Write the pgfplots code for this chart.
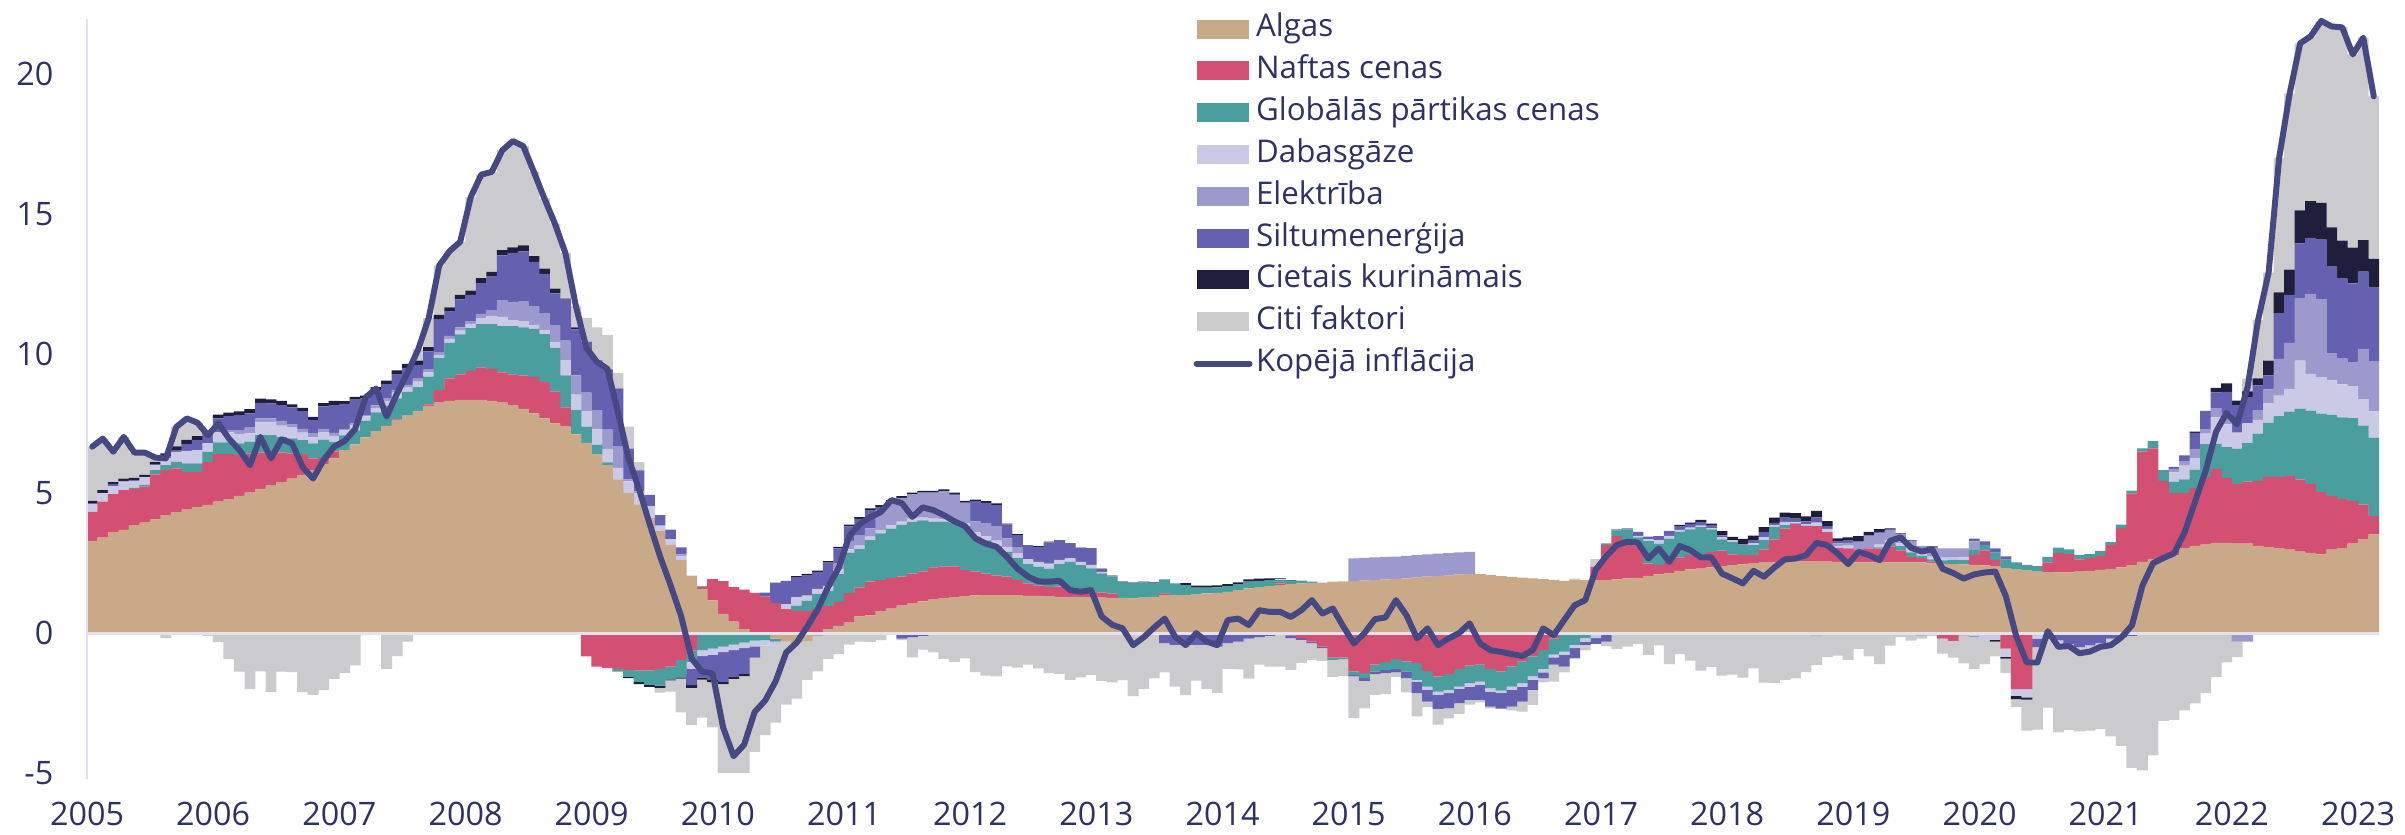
\documentclass[border=0pt]{standalone}
\usepackage{pgfplots}
\pgfplotsset{compat=1.18}
\usepackage{pgfplotstable}
\usepackage{fontspec}
\setmainfont{Open Sans}

\definecolor{cA}{HTML}{C9A988}
\definecolor{cO}{HTML}{D35073}
\definecolor{cF}{HTML}{4A9E9D}
\definecolor{cG}{HTML}{CBCAE6}
\definecolor{cE}{HTML}{9C9ACD}
\definecolor{cH}{HTML}{6462B0}
\definecolor{cS}{HTML}{1F1E3C}
\definecolor{cC}{HTML}{CBCBCD}
\definecolor{cL}{HTML}{464884}
\definecolor{labcol}{HTML}{2F3163}
\definecolor{axiscol}{HTML}{E3E3EF}

% m = month index from Jan 2005; A algas, O nafta, F partika, G gaze, E elektriba,
% H siltumenergija, S cietais kurinamais, C citi faktori, L kopeja inflacija
\pgfplotstableread{
m A O F G E H S C L
0 3.30 1.04 0.00 0.27 0.00 0.02 0.10 1.94 6.67
1 3.42 1.28 0.00 0.30 0.00 0.02 0.10 1.84 6.96
2 3.61 1.36 0.00 0.29 0.00 0.07 0.07 1.09 6.49
3 3.69 1.43 0.00 0.30 0.00 0.03 0.08 1.49 7.02
4 3.86 1.30 0.04 0.25 0.00 0.02 0.08 0.91 6.46
5 3.95 1.29 0.06 0.27 0.00 0.02 0.07 0.80 6.46
6 4.07 1.61 0.15 0.18 0.00 0.02 0.10 0.15 6.28
7 4.22 1.61 0.18 0.25 0.00 0.05 0.12 -0.18 6.25
8 4.33 1.56 0.24 0.35 0.00 0.05 0.15 0.70 7.38
9 4.42 1.35 0.30 0.45 0.00 0.24 0.15 0.77 7.68
10 4.52 1.25 0.30 0.48 0.00 0.35 0.15 0.48 7.53
11 4.59 1.53 0.36 0.32 0.00 0.33 0.05 -0.10 7.08
12 4.70 1.70 0.42 0.36 0.00 0.50 0.14 -0.32 7.50
13 4.79 1.61 0.42 0.36 0.08 0.50 0.13 -0.93 6.96
14 4.91 1.46 0.42 0.33 0.14 0.54 0.13 -1.38 6.55
15 5.03 1.40 0.42 0.30 0.20 0.51 0.15 -2.00 6.01
16 5.16 1.30 0.62 0.48 0.12 0.56 0.15 -1.37 7.02
17 5.28 1.18 0.62 0.48 0.12 0.54 0.14 -2.11 6.25
18 5.40 1.06 0.56 0.40 0.17 0.57 0.15 -1.38 6.93
19 5.53 0.90 0.54 0.38 0.13 0.60 0.10 -1.39 6.79
20 5.66 0.74 0.50 0.27 0.14 0.63 0.12 -2.11 5.95
21 5.81 0.44 0.54 0.21 0.14 0.48 0.12 -2.21 5.53
22 6.03 0.27 0.62 0.27 0.12 0.80 0.12 -2.04 6.19
23 6.25 0.25 0.34 0.22 0.10 1.00 0.15 -1.64 6.67
24 6.55 0.00 0.52 0.18 0.05 0.90 0.10 -1.43 6.87
25 6.75 0.00 0.50 0.20 0.05 0.85 0.10 -1.15 7.30
26 7.00 0.00 0.60 0.15 0.05 0.60 0.10 -0.07 8.43
27 7.23 0.00 0.67 0.15 0.10 0.55 0.10 -0.05 8.75
28 7.41 0.00 0.72 0.18 0.10 0.50 0.12 -1.28 7.75
29 7.60 0.05 0.75 0.20 0.10 0.55 0.15 -0.82 8.58
30 7.78 0.00 0.85 0.15 0.10 0.60 0.15 -0.30 9.33
31 7.95 0.00 0.85 0.20 0.10 0.50 0.15 0.40 10.15
32 8.13 0.05 1.00 0.15 0.10 0.65 0.15 1.04 11.27
33 8.25 0.45 1.15 0.08 0.10 1.20 0.15 1.77 13.15
34 8.31 0.80 1.27 0.15 0.10 0.87 0.15 2.02 13.67
35 8.34 0.92 1.43 0.15 0.10 1.00 0.16 1.90 14.00
36 8.34 1.04 1.53 0.15 0.10 0.94 0.15 3.35 15.60
37 8.34 1.17 1.54 0.22 0.15 1.10 0.18 3.70 16.40
38 8.31 1.14 1.60 0.30 0.20 1.20 0.17 3.58 16.50
39 8.25 1.08 1.65 0.33 0.60 1.60 0.19 3.57 17.27
40 8.16 1.10 1.72 0.22 0.65 1.75 0.20 3.80 17.60
41 8.02 1.20 1.72 0.22 0.70 1.80 0.21 3.55 17.42
42 7.86 1.30 1.72 0.15 0.65 1.60 0.21 3.01 16.50
43 7.68 1.30 1.72 0.15 0.60 1.40 0.19 2.51 15.55
44 7.50 1.15 1.55 0.20 0.60 1.15 0.17 2.33 14.65
45 7.39 0.69 1.14 0.55 0.69 1.47 0.04 1.63 13.60
46 7.11 0.00 0.87 0.55 0.69 1.65 0.07 0.76 11.70
47 6.81 -0.83 0.58 0.55 0.66 1.79 0.03 0.86 10.20
48 6.40 -1.20 0.34 0.55 0.69 1.78 0.01 1.17 9.70
49 6.01 -1.24 0.10 0.48 0.69 2.13 0.02 1.23 9.45
50 5.50 -1.28 -0.10 0.41 0.76 2.06 0.02 0.56 7.90
51 5.02 -1.31 -0.25 0.41 0.07 1.10 -0.05 0.79 6.26
52 4.61 -1.33 -0.41 0.41 0.05 0.75 -0.08 0.30 5.16
53 4.13 -1.33 -0.52 0.41 0.00 0.41 -0.07 0.00 3.92
54 3.65 -1.28 -0.60 0.20 0.00 0.37 -0.08 -0.17 2.75
55 3.16 -1.20 -0.45 0.20 0.00 0.34 -0.04 -0.40 1.72
56 2.61 -0.96 -0.62 0.14 0.07 0.25 -0.05 -1.20 0.62
57 2.06 -0.62 -0.41 -0.25 0.00 -0.58 -0.10 -1.33 -0.90
58 1.58 0.07 -0.62 -0.20 0.03 -0.76 -0.08 -1.36 -1.38
59 1.17 0.76 -0.55 -0.23 0.00 -0.87 -0.10 -1.62 -1.44
60 0.69 1.17 -0.48 -0.20 0.00 -1.06 -0.08 -3.19 -3.37
61 0.41 1.24 -0.41 -0.20 0.00 -0.96 -0.07 -3.37 -4.40
62 0.14 1.42 -0.34 -0.20 0.00 -0.92 -0.08 -3.47 -3.99
63 0.00 1.44 -0.27 -0.20 0.00 -0.41 0.00 -3.37 -2.82
64 -0.05 1.31 -0.20 -0.20 0.00 0.14 0.00 -3.20 -2.41
65 -0.20 1.07 -0.10 -0.20 0.00 0.74 0.00 -2.70 -1.72
66 -0.30 0.86 0.00 0.18 0.00 0.83 0.00 -2.26 -0.69
67 -0.35 0.80 0.18 0.30 0.00 0.72 0.04 -1.99 -0.34
68 -0.30 0.80 0.36 0.18 0.00 0.72 0.06 -1.37 0.23
69 -0.10 0.86 0.54 0.18 0.00 0.60 0.06 -1.27 0.85
70 0.14 0.83 0.54 0.18 0.00 0.83 0.06 -0.92 1.66
71 0.26 0.86 0.99 0.18 0.20 0.54 0.06 -0.75 2.34
72 0.38 1.05 1.45 0.12 0.30 0.52 0.06 -0.41 3.47
73 0.60 1.04 1.37 0.12 0.36 0.60 0.06 -0.30 3.90
74 0.64 1.20 1.49 0.12 0.30 0.65 0.06 -0.31 4.15
75 0.79 1.11 1.67 0.12 0.70 0.13 0.06 -0.25 4.33
76 0.88 1.10 1.76 0.12 0.80 0.04 0.06 0.00 4.76
77 0.98 1.04 1.85 0.12 0.85 -0.20 0.06 -0.05 4.65
78 1.06 1.07 1.85 0.12 0.87 -0.15 0.06 -0.72 4.16
79 1.14 1.07 1.82 0.10 0.90 -0.10 0.06 -0.49 4.50
80 1.20 1.15 1.63 0.12 0.93 0.00 0.06 -0.69 4.40
81 1.25 1.13 1.61 0.10 0.98 0.00 0.07 -0.92 4.22
82 1.29 1.10 1.55 0.10 0.90 0.03 0.06 -1.03 4.00
83 1.32 0.93 1.58 0.10 0.72 0.02 0.06 -0.90 3.83
84 1.35 0.85 1.25 0.15 0.40 0.72 0.06 -1.39 3.39
85 1.36 0.77 1.19 0.15 0.45 0.74 0.06 -1.52 3.20
86 1.36 0.71 1.04 0.20 0.50 0.77 0.06 -1.55 3.09
87 1.36 0.66 0.89 0.18 0.30 0.50 0.03 -1.19 2.73
88 1.36 0.54 0.78 0.18 0.20 0.45 0.03 -1.23 2.31
89 1.33 0.45 0.69 0.18 0.00 0.48 0.02 -1.13 2.02
90 1.33 0.38 0.66 0.18 0.00 0.54 0.02 -1.26 1.85
91 1.32 0.33 0.66 0.15 0.05 0.74 0.02 -1.43 1.84
92 1.30 0.36 0.81 0.15 0.00 0.69 0.02 -1.46 1.87
93 1.30 0.30 0.95 0.12 0.00 0.52 0.02 -1.67 1.54
94 1.30 0.21 0.92 0.12 0.00 0.49 0.02 -1.58 1.48
95 1.29 0.20 0.83 0.12 0.00 0.57 0.02 -1.49 1.54
96 1.27 0.18 0.69 0.05 0.00 0.10 0.02 -1.71 0.60
97 1.26 0.15 0.62 0.00 0.00 0.02 0.01 -1.76 0.30
98 1.26 0.00 0.57 0.00 0.00 0.02 0.00 -1.68 0.17
99 1.24 0.00 0.56 0.00 0.00 0.02 0.00 -2.25 -0.43
100 1.27 0.00 0.55 0.00 0.00 0.00 0.02 -1.99 -0.15
101 1.30 0.00 0.50 0.00 0.00 0.00 0.02 -1.62 0.20
102 1.36 0.06 0.50 0.00 0.00 -0.36 0.00 -1.04 0.52
103 1.36 0.00 0.42 0.00 0.00 -0.42 0.00 -1.49 -0.13
104 1.36 0.00 0.36 0.00 0.00 -0.42 0.07 -1.80 -0.43
105 1.38 0.00 0.25 0.00 0.00 -0.42 0.07 -1.28 0.00
106 1.42 0.00 0.21 0.00 0.00 -0.42 0.07 -1.58 -0.30
107 1.44 -0.06 0.20 0.00 0.00 -0.42 0.07 -1.66 -0.43
108 1.48 0.00 0.20 0.00 0.00 -0.36 0.07 -0.92 0.47
109 1.54 0.00 0.21 0.00 0.00 -0.30 0.07 -1.00 0.52
110 1.60 0.00 0.24 0.00 0.00 -0.20 0.08 -1.43 0.29
111 1.63 0.00 0.24 0.00 0.00 -0.14 0.08 -0.99 0.82
112 1.68 0.00 0.22 0.00 0.00 -0.10 0.06 -1.10 0.76
113 1.72 0.06 0.12 0.03 0.00 0.00 0.03 -1.20 0.76
114 1.75 -0.08 0.12 0.00 0.00 -0.10 0.02 -1.13 0.58
115 1.78 -0.18 0.10 0.00 0.00 -0.06 0.00 -0.82 0.82
116 1.80 -0.30 0.04 0.00 0.00 -0.06 0.00 -0.60 1.18
117 1.81 -0.48 0.00 0.00 0.00 -0.06 0.00 -0.45 0.70
118 1.84 -0.88 -0.08 0.00 0.00 0.00 0.00 -0.60 0.88
119 1.85 -0.88 -0.05 0.00 0.00 0.00 0.00 -0.60 0.23
120 1.86 -1.37 -0.12 0.00 0.81 -0.06 0.00 -1.49 -0.37
121 1.88 -1.43 -0.18 0.00 0.81 -0.10 0.00 -0.98 0.00
122 1.90 -1.13 -0.24 0.00 0.81 -0.10 0.00 -0.74 0.50
123 1.92 -1.04 -0.27 0.00 0.81 -0.12 0.00 -0.74 0.56
124 1.94 -0.92 -0.36 0.00 0.80 -0.12 0.00 -0.16 1.18
125 1.96 -1.01 -0.36 0.00 0.80 -0.24 0.00 -0.51 0.64
126 1.99 -1.07 -0.60 -0.06 0.80 -0.42 0.00 -0.83 -0.19
127 2.02 -1.35 -0.56 -0.12 0.80 -0.42 0.00 -0.20 0.17
128 2.04 -1.55 -0.54 -0.12 0.80 -0.50 0.00 -0.56 -0.43
129 2.06 -1.47 -0.56 -0.12 0.80 -0.54 0.00 -0.36 -0.19
130 2.09 -1.28 -0.63 -0.08 0.80 -0.51 0.00 -0.39 0.00
131 2.11 -1.16 -0.63 -0.12 0.80 -0.48 0.00 -0.17 0.35
132 2.11 -1.13 -0.60 -0.12 0.00 -0.54 0.00 -0.09 -0.37
133 2.08 -1.28 -0.69 -0.12 0.00 -0.54 0.00 -0.06 -0.61
134 2.04 -1.37 -0.69 -0.08 0.00 -0.56 0.00 -0.01 -0.67
135 2.01 -1.19 -0.72 -0.12 0.00 -0.60 0.00 -0.13 -0.75
136 1.99 -1.01 -0.78 -0.12 0.00 -0.54 0.00 -0.36 -0.82
137 1.96 -0.83 -0.72 -0.12 0.00 -0.36 0.00 -0.54 -0.61
138 1.93 -0.60 -0.68 -0.12 0.00 -0.21 0.00 -0.15 0.17
139 1.90 -0.20 -0.57 -0.10 0.00 -0.26 0.00 -0.60 -0.07
140 1.87 -0.06 -0.60 -0.12 0.00 -0.42 0.00 -0.20 0.47
141 1.90 0.00 -0.42 -0.12 0.00 -0.36 0.00 0.05 1.00
142 1.90 0.00 -0.18 -0.12 0.00 -0.12 0.00 -0.20 1.18
143 1.90 0.48 0.00 -0.18 0.00 -0.20 0.00 0.27 2.27
144 1.90 1.25 0.06 0.00 0.00 -0.30 0.00 -0.16 2.75
145 1.92 1.55 0.21 0.00 0.00 0.03 0.00 -0.56 3.15
146 1.96 1.25 0.50 0.00 0.00 0.04 0.00 -0.48 3.27
147 1.98 1.15 0.30 0.05 0.00 0.14 0.00 -0.38 3.24
148 2.05 0.44 0.80 0.06 0.00 0.10 0.00 -0.78 2.67
149 2.10 0.33 0.77 0.12 0.00 0.15 0.00 -0.44 3.03
150 2.16 0.39 0.83 0.10 0.00 0.18 0.00 -1.11 2.55
151 2.23 0.48 0.92 0.06 0.00 0.12 0.06 -0.75 3.12
152 2.28 0.51 0.92 0.06 0.00 0.14 0.04 -0.98 2.97
153 2.31 0.48 1.00 0.06 0.00 0.10 0.10 -1.34 2.71
154 2.35 0.56 0.80 0.05 0.00 0.10 0.06 -1.21 2.71
155 2.40 0.55 0.40 0.08 0.00 0.07 0.15 -1.52 2.13
156 2.43 0.39 0.44 0.06 0.00 0.00 0.12 -1.48 1.96
157 2.46 0.33 0.36 0.02 0.00 0.00 0.20 -1.59 1.78
158 2.49 0.30 0.36 0.06 0.00 0.10 0.18 -1.26 2.23
159 2.52 0.48 0.33 0.10 0.00 0.18 0.18 -1.77 2.02
160 2.54 0.81 0.45 0.06 0.00 0.08 0.19 -1.78 2.35
161 2.56 1.18 0.12 0.12 0.00 0.15 0.18 -1.67 2.64
162 2.58 1.32 0.03 0.05 0.00 0.12 0.19 -1.62 2.67
163 2.58 1.25 0.02 0.05 0.00 0.10 0.18 -1.39 2.79
164 2.58 1.25 -0.08 0.12 0.00 0.19 0.23 -1.06 3.23
165 2.56 1.05 0.00 0.12 0.00 0.10 0.18 -0.86 3.15
166 2.55 0.50 0.00 0.06 0.10 0.06 0.12 -0.80 2.85
167 2.54 0.49 0.00 0.10 0.10 0.08 0.12 -0.96 2.47
168 2.53 0.44 0.00 0.00 0.30 0.00 0.20 -0.56 2.91
169 2.53 0.50 0.00 0.00 0.42 0.05 0.12 -0.83 2.79
170 2.52 0.50 0.05 0.10 0.42 0.03 0.10 -1.11 2.61
171 2.53 0.57 0.12 0.10 0.35 0.03 0.05 -0.45 3.30
172 2.53 0.43 0.15 0.10 0.33 0.00 0.03 -0.14 3.43
173 2.53 0.19 0.17 0.20 0.20 0.00 0.03 -0.27 3.05
174 2.53 0.15 0.08 0.10 0.26 -0.08 0.00 -0.12 2.92
175 2.50 0.06 0.08 0.10 0.30 0.03 0.03 -0.10 3.00
176 2.48 -0.20 0.12 0.10 0.33 0.00 0.00 -0.53 2.30
177 2.47 -0.28 0.15 0.08 0.33 0.00 0.00 -0.60 2.15
178 2.46 -0.08 0.15 0.10 0.32 0.00 0.00 -1.00 1.95
179 2.44 0.36 0.18 -0.10 0.30 0.10 -0.02 -1.16 2.10
180 2.42 0.54 0.20 -0.24 0.00 0.12 0.00 -0.87 2.17
181 2.38 0.24 0.26 -0.24 0.00 0.15 -0.06 -0.53 2.20
182 2.33 -0.55 0.30 -0.30 0.00 0.12 -0.06 -0.51 1.33
183 2.27 -2.00 0.26 -0.24 0.00 0.00 -0.12 -0.29 -0.12
184 2.24 -2.00 0.20 -0.30 0.00 0.00 -0.08 -1.11 -1.05
185 2.20 0.00 0.20 -0.20 0.00 -0.30 0.00 -2.95 -1.05
186 2.18 0.35 0.20 0.00 0.00 -0.20 0.00 -2.46 0.07
187 2.17 0.69 0.20 0.00 0.00 -0.26 0.00 -3.29 -0.49
188 2.17 0.66 0.17 0.00 0.00 -0.38 0.00 -3.08 -0.46
189 2.20 0.44 0.15 0.00 0.00 -0.50 0.00 -3.01 -0.72
190 2.23 0.45 0.15 0.00 0.00 -0.44 0.00 -3.05 -0.66
191 2.26 0.50 0.18 0.00 0.00 -0.36 0.00 -3.07 -0.49
192 2.30 0.86 0.10 0.00 0.00 -0.20 0.00 -3.49 -0.43
193 2.35 1.41 0.12 0.00 0.00 -0.15 0.00 -3.88 -0.15
194 2.43 2.57 0.10 0.00 0.00 -0.10 0.00 -4.72 0.28
195 2.55 3.94 0.12 0.00 0.00 0.00 0.00 -4.91 1.70
196 2.63 3.98 0.26 0.00 0.00 0.00 0.00 -4.37 2.50
197 2.71 2.74 0.38 0.00 0.00 0.00 0.00 -3.14 2.69
198 2.79 2.22 0.41 0.33 0.13 0.07 0.00 -3.10 2.85
199 3.04 1.97 0.49 0.49 0.16 0.21 0.00 -2.76 3.60
200 3.12 2.07 0.66 0.41 0.33 0.57 0.05 -2.51 4.70
201 3.17 2.41 1.18 0.38 0.16 0.62 0.03 -2.15 5.80
202 3.23 2.65 0.89 0.95 0.33 0.56 0.16 -1.57 7.20
203 3.23 2.32 1.10 0.82 0.40 0.76 0.30 -1.05 7.88
204 3.20 2.14 1.26 0.57 -0.30 0.99 0.16 -0.55 7.47
205 3.20 2.22 1.38 0.70 -0.30 0.94 0.21 0.45 8.80
206 3.12 2.33 1.69 0.49 0.33 0.90 0.25 2.09 11.20
207 3.09 2.50 1.94 0.69 0.50 0.50 0.53 3.15 12.90
208 3.04 2.55 2.17 0.74 1.31 1.64 0.74 4.81 17.00
209 2.99 2.63 2.30 0.82 1.64 1.72 0.90 6.30 19.30
210 2.92 2.58 2.53 1.72 2.22 1.97 1.18 5.98 21.10
211 2.87 2.46 2.63 1.31 2.87 2.00 1.31 5.90 21.35
212 2.82 2.22 2.81 1.31 2.79 2.13 1.31 6.51 21.90
213 2.99 1.91 2.91 1.23 0.98 3.09 1.40 7.19 21.70
214 3.04 1.76 2.92 1.18 0.92 2.86 1.36 7.63 21.67
215 3.20 1.53 2.96 1.15 0.85 2.82 1.28 6.91 20.70
216 3.37 1.23 2.82 0.95 1.80 2.76 1.13 7.24 21.30
217 3.53 0.66 2.80 0.94 1.80 2.63 1.03 5.81 19.20
}\data

\pgfplotsset{
  base/.style={width=22.92cm, height=7.59cm, scale only axis,
    xmin=0, xmax=218, ymin=-5.2, ymax=21.95},
  stk/.style={base, hide axis, ybar stacked, bar width=1.04},
  swatch/.style={legend image code/.code={\fill[##1] (0cm,-0.095cm) rectangle (0.52cm,0.095cm);}},
  lineleg/.style={legend image code/.code={\draw[##1] (0cm,0cm) -- (0.53cm,0cm);}},
}

\begin{document}
\begin{tikzpicture}
% negative parts
\begin{axis}[stk]
  \addplot[fill=cA, draw=none] table[x expr=\thisrow{m}+0.5, y expr={min(\thisrow{A},0)}] {\data};
  \addplot[fill=cO, draw=none] table[x expr=\thisrow{m}+0.5, y expr={min(\thisrow{O},0)}] {\data};
  \addplot[fill=cF, draw=none] table[x expr=\thisrow{m}+0.5, y expr={min(\thisrow{F},0)}] {\data};
  \addplot[fill=cG, draw=none] table[x expr=\thisrow{m}+0.5, y expr={min(\thisrow{G},0)}] {\data};
  \addplot[fill=cE, draw=none] table[x expr=\thisrow{m}+0.5, y expr={min(\thisrow{E},0)}] {\data};
  \addplot[fill=cH, draw=none] table[x expr=\thisrow{m}+0.5, y expr={min(\thisrow{H},0)}] {\data};
  \addplot[fill=cS, draw=none] table[x expr=\thisrow{m}+0.5, y expr={min(\thisrow{S},0)}] {\data};
  \addplot[fill=cC, draw=none] table[x expr=\thisrow{m}+0.5, y expr={min(\thisrow{C},0)}] {\data};
\end{axis}
% positive parts
\begin{axis}[stk]
  \addplot[fill=cA, draw=none] table[x expr=\thisrow{m}+0.5, y expr={max(\thisrow{A},0)}] {\data};
  \addplot[fill=cO, draw=none] table[x expr=\thisrow{m}+0.5, y expr={max(\thisrow{O},0)}] {\data};
  \addplot[fill=cF, draw=none] table[x expr=\thisrow{m}+0.5, y expr={max(\thisrow{F},0)}] {\data};
  \addplot[fill=cG, draw=none] table[x expr=\thisrow{m}+0.5, y expr={max(\thisrow{G},0)}] {\data};
  \addplot[fill=cE, draw=none] table[x expr=\thisrow{m}+0.5, y expr={max(\thisrow{E},0)}] {\data};
  \addplot[fill=cH, draw=none] table[x expr=\thisrow{m}+0.5, y expr={max(\thisrow{H},0)}] {\data};
  \addplot[fill=cS, draw=none] table[x expr=\thisrow{m}+0.5, y expr={max(\thisrow{S},0)}] {\data};
  \addplot[fill=cC, draw=none] table[x expr=\thisrow{m}+0.5, y expr={max(\thisrow{C},0)}] {\data};
\end{axis}
% line, axes, legend
\begin{axis}[base, name=main, clip=false,
    axis x line*=bottom, axis y line*=left,
    x axis line style={draw=none},
    y axis line style={draw=axiscol, line width=0.8pt},
    major tick length=0pt,
    xtick={0,12,...,216},
    xticklabels={2005,2006,2007,2008,2009,2010,2011,2012,2013,2014,2015,2016,2017,2018,2019,2020,2021,2022,2023},
    ytick={-5,0,5,10,15,20},
    yticklabels={-5,0,5,10,15,20},
    extra y ticks={0}, extra y tick labels={},
    extra y tick style={grid=major, major grid style={draw=axiscol, line width=0.8pt}},
    tick label style={font=\fontsize{9.2}{11}\selectfont, text=labcol},
    yticklabel style={inner sep=0pt, xshift=-0.33cm},
    xticklabel style={inner sep=0pt, yshift=-0.23cm},
    legend cell align=left,
    legend style={at={(0.4825,1.015)}, anchor=north west, draw=none, fill=none,
      inner sep=0pt, row sep=0.4pt, font=\fontsize{8.9}{10}\selectfont, text=labcol,
      nodes={inner sep=1pt, text height=7pt, text depth=2.5pt}},
  ]
  \addlegendimage{swatch, fill=cA, draw=none}\addlegendentry{Algas}
  \addlegendimage{swatch, fill=cO, draw=none}\addlegendentry{Naftas cenas}
  \addlegendimage{swatch, fill=cF, draw=none}\addlegendentry{Globālās pārtikas cenas}
  \addlegendimage{swatch, fill=cG, draw=none}\addlegendentry{Dabasgāze}
  \addlegendimage{swatch, fill=cE, draw=none}\addlegendentry{Elektrība}
  \addlegendimage{swatch, fill=cH, draw=none}\addlegendentry{Siltumenerģija}
  \addlegendimage{swatch, fill=cS, draw=none}\addlegendentry{Cietais kurināmais}
  \addlegendimage{swatch, fill=cC, draw=none}\addlegendentry{Citi faktori}
  \addplot[cL, line width=1.7pt, line cap=round, line join=round, lineleg]
    table[x expr=\thisrow{m}+0.5, y=L] {\data};
  \addlegendentry{Kopējā inflācija}
\end{axis}
\path (main.south west) ++(-0.87cm,-0.557cm) rectangle ([shift={(0.26cm,0.195cm)}]main.north east);
\end{tikzpicture}
\end{document}
